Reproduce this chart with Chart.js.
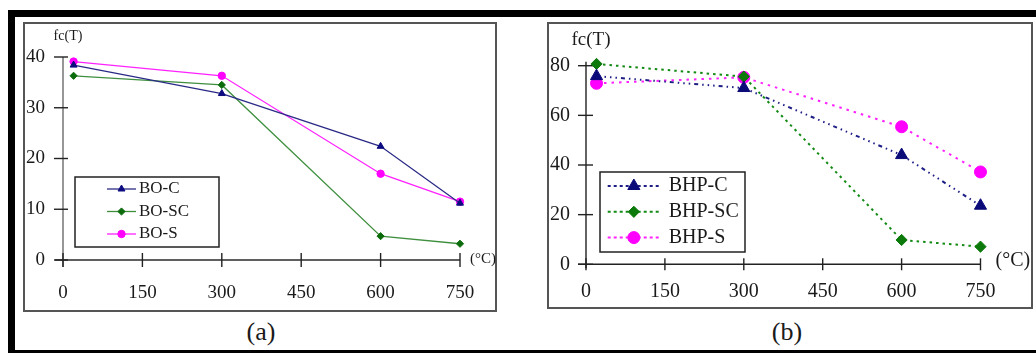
<!DOCTYPE html>
<html>
<head>
<meta charset="utf-8">
<script src="https://cdn.jsdelivr.net/npm/chart.js@4.4.1/dist/chart.umd.min.js"></script>
<style>
  html, body { margin: 0; padding: 0; background: #fff; }
  body { width: 1036px; height: 353px; position: relative; overflow: hidden; font-family: "Liberation Serif", "DejaVu Serif", serif; }
  #frame { position: absolute; left: 8px; top: 10px; width: 1060px; height: 347px; border: 7px solid #000; box-sizing: border-box; }
  .panel { position: absolute; border: 2px solid #555; box-sizing: border-box; }
  canvas { position: absolute; }
  .caption { position: absolute; font-size: 26px; color: #1a1a1a; transform: translate(-50%, -50%); white-space: nowrap; }
</style>
</head>
<body>
<div id="frame"></div>
<div class="panel" style="left:23px; top:22px; width:474px; height:290px;"></div>
<div class="panel" style="left:547px; top:22px; width:486px; height:287px;"></div>
<canvas id="chartA" width="474" height="290" style="left:23px; top:22px;"></canvas>
<canvas id="chartB" width="486" height="287" style="left:547px; top:22px;"></canvas>
<div class="caption" style="left:261px; top:332px;">(a)</div>
<div class="caption" style="left:787px; top:332px;">(b)</div>
<script>
// Temperatures (°C) at which the specimens were tested
const temperatures = [20, 300, 600, 750];
const xTickValues = [0, 150, 300, 450, 600, 750];

// (a) ordinary concrete series, fc(T)
const boC  = [38.4, 32.8, 22.4, 11.2];
const boSC = [36.3, 34.5, 4.7, 3.2];
const boS  = [39.1, 36.3, 17.0, 11.5];
const yTickValuesA = [0, 10, 20, 30, 40];

// (b) high-performance concrete series, fc(T)
const bhpC  = [75.8, 71.0, 44.0, 23.6];
const bhpSC = [80.7, 75.6, 9.8, 7.1];
const bhpS  = [72.9, 75.3, 55.4, 37.2];
const yTickValuesB = [0, 20, 40, 60, 80];

const toPoints = vals => temperatures.map((t, i) => ({ x: t, y: vals[i] }));
const FONT = '"Liberation Serif", "DejaVu Serif", serif';
const TEXT = '#1a1a1a';

// Axes crossing at the origin, with ticks that cross the axis line
const crossAxes = {
  id: 'crossAxes',
  beforeDatasetsDraw(chart, args, o) {
    const ctx = chart.ctx, xs = chart.scales.x, ys = chart.scales.y;
    const x0 = xs.getPixelForValue(0), y0 = ys.getPixelForValue(0);
    const xEnd = xs.getPixelForValue(o.xMax), yTop = ys.getPixelForValue(o.yMax);
    ctx.save();
    ctx.lineWidth = 1.4;
    // y axis
    ctx.strokeStyle = o.yAxisColor;
    ctx.beginPath();
    ctx.moveTo(x0, yTop - o.yOver); ctx.lineTo(x0, y0 + o.yUnder); ctx.stroke();
    // x axis
    ctx.strokeStyle = o.xAxisColor;
    ctx.beginPath();
    ctx.moveTo(x0 - o.xUnder, y0); ctx.lineTo(xEnd, y0); ctx.stroke();
    // ticks
    ctx.strokeStyle = '#222';
    o.yTicks.forEach(v => {
      const py = ys.getPixelForValue(v);
      ctx.beginPath(); ctx.moveTo(x0 - o.yTickOut, py); ctx.lineTo(x0 + o.yTickIn, py); ctx.stroke();
    });
    o.xTicks.forEach(v => {
      const px = xs.getPixelForValue(v);
      ctx.beginPath(); ctx.moveTo(px, y0 - o.xTickHalf); ctx.lineTo(px, y0 + o.xTickHalf); ctx.stroke();
    });
    // tick labels
    ctx.fillStyle = TEXT;
    ctx.font = o.tickFont + 'px ' + FONT;
    ctx.textBaseline = 'middle';
    ctx.textAlign = 'right';
    o.yTicks.forEach(v => ctx.fillText(String(v), x0 - o.yLabelGap, ys.getPixelForValue(v)));
    ctx.textAlign = 'center';
    o.xTicks.forEach(v => ctx.fillText(String(v), xs.getPixelForValue(v), y0 + o.xLabelGap));
    // axis titles
    ctx.font = o.titleFont + 'px ' + FONT;
    ctx.textAlign = 'center';
    ctx.fillText('fc(T)', x0 + o.yTitleDx, yTop + o.yTitleDy);
    ctx.textAlign = 'left';
    ctx.font = o.unitFont + 'px ' + FONT;
    ctx.fillText('(°C)', xEnd + o.unitDx, y0 + o.unitDy);
    ctx.restore();
  }
};

// Boxed legend drawn inside the plot area
const boxLegend = {
  id: 'boxLegend',
  afterDatasetsDraw(chart, args, o) {
    const ctx = chart.ctx;
    ctx.save();
    ctx.fillStyle = '#fff';
    ctx.fillRect(o.left, o.top, o.width, o.height);
    ctx.strokeStyle = '#222';
    ctx.lineWidth = 1.5;
    ctx.strokeRect(o.left, o.top, o.width, o.height);
    ctx.font = o.font + 'px ' + FONT;
    ctx.textBaseline = 'middle';
    ctx.textAlign = 'left';
    chart.data.datasets.forEach((ds, i) => {
      const ry = o.top + o.firstRow + i * o.rowGap;
      ctx.strokeStyle = ds.borderColor;
      ctx.lineWidth = ds.borderWidth;
      ctx.setLineDash(o.sampleDash || []);
      ctx.beginPath();
      ctx.moveTo(o.left + o.sampleX0, ry); ctx.lineTo(o.left + o.sampleX1, ry); ctx.stroke();
      ctx.setLineDash([]);
      const mx = o.left + (o.sampleX0 + o.sampleX1) / 2;
      ctx.fillStyle = ds.pointBackgroundColor;
      ctx.strokeStyle = ds.pointBorderColor;
      ctx.lineWidth = 1;
      Chart.helpers.drawPoint(ctx, { pointStyle: ds.pointStyle, radius: ds.pointRadius, rotation: 0, borderWidth: 1 }, mx, ry);
      ctx.fillStyle = TEXT;
      ctx.fillText(ds.label, o.left + o.textX, ry);
    });
    ctx.restore();
  }
};

function series(label, vals, line, marker, style, radius, width, dash) {
  return {
    label, data: toPoints(vals), clip: false,
    borderColor: line, borderWidth: width, borderDash: dash || [],
    pointStyle: style, pointRadius: radius, pointHoverRadius: radius,
    pointBackgroundColor: marker, pointBorderColor: marker, pointBorderWidth: 1,
    tension: 0, fill: false
  };
}

function baseOptions(yMax, pad, axes, legend) {
  return {
    responsive: false, animation: false, events: [],
    layout: { padding: pad },
    scales: {
      x: { type: 'linear', min: 0, max: 750, display: false },
      y: { type: 'linear', min: 0, max: yMax, display: false }
    },
    plugins: {
      legend: { display: false }, tooltip: { enabled: false },
      crossAxes: axes, boxLegend: legend
    }
  };
}

// Panel (a)
new Chart(document.getElementById('chartA'), {
  type: 'line',
  plugins: [crossAxes, boxLegend],
  data: {
    datasets: [
      series('BO-C',  boC,  '#2a2a86', '#0c0c80', 'triangle', 4,   1.3),
      series('BO-SC', boSC, '#3f8f3f', '#0b6b0b', 'rectRot',  3.6, 1.3),
      series('BO-S',  boS,  '#ff22ff', '#ff00ff', 'circle',   3.7, 1.3)
    ]
  },
  options: baseOptions(40, { left: 40, right: 37, top: 35, bottom: 52 }, {
    xMax: 750, yMax: 40, xTicks: xTickValues, yTicks: yTickValuesA,
    yAxisColor: '#6a6a6a', xAxisColor: '#2a2a2a',
    yOver: 0, yUnder: 7, xUnder: 8, yTickOut: 9, yTickIn: 5, xTickHalf: 7,
    tickFont: 19, yLabelGap: 18, xLabelGap: 33,
    titleFont: 14, yTitleDx: 5, yTitleDy: -21,
    unitFont: 15, unitDx: 10, unitDy: -1
  }, {
    left: 52, top: 155, width: 144, height: 70, font: 17,
    firstRow: 12, rowGap: 22.5, sampleX0: 32, sampleX1: 61, textX: 64
  })
});

// Panel (b)
new Chart(document.getElementById('chartB'), {
  type: 'line',
  plugins: [crossAxes, boxLegend],
  data: {
    datasets: [
      series('BHP-C',  bhpC,  '#1e1e86', '#0a0a78', 'triangle', 7,   2, [4, 4, 1.5, 4, 1.5, 4, 1.5, 4]),
      series('BHP-SC', bhpSC, '#138a13', '#0b7a0b', 'rectRot',  5.6, 2, [2.5, 4]),
      series('BHP-S',  bhpS,  '#ff22ff', '#ff00ff', 'circle',   6,   2, [2.5, 5])
    ]
  },
  options: baseOptions(80, { left: 39, right: 52.5, top: 43.7, bottom: 44.7 }, {
    xMax: 750, yMax: 80, xTicks: xTickValues, yTicks: yTickValuesB,
    yAxisColor: '#222', xAxisColor: '#222',
    yOver: 4, yUnder: 4, xUnder: 8, yTickOut: 8, yTickIn: 7, xTickHalf: 6,
    tickFont: 20, yLabelGap: 16, xLabelGap: 27.5,
    titleFont: 19, yTitleDx: 5, yTitleDy: -25.5,
    unitFont: 20, unitDx: 15, unitDy: -4
  }, {
    left: 53, top: 150, width: 145, height: 80, font: 20,
    firstRow: 14, rowGap: 25.8, sampleX0: 7.7, sampleX1: 60, textX: 68.7,
    sampleDash: [3, 3]
  })
});
</script>
</body>
</html>
